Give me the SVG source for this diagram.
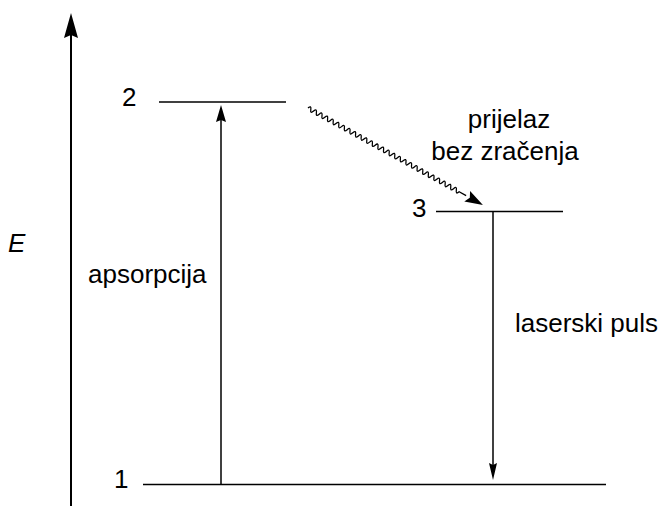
<svg xmlns="http://www.w3.org/2000/svg" width="664" height="506" viewBox="0 0 664 506">
<style>
.t{font-family:"Liberation Sans",Arial,sans-serif;font-size:26px;fill:#000}
.ln{stroke:#000;stroke-width:1.5;fill:none}
.ah{fill:#000;stroke:none}
</style>
<rect width="664" height="506" fill="#fff"/>
<g id="axis">
<line class="ln" x1="71" y1="506" x2="71" y2="30" style="stroke-width:2"/>
<polygon class="ah" points="71,13 64,38 71,35 78,38"/>
<text class="t" x="8" y="252" font-style="italic">E</text>
</g>
<g id="level1">
<line class="ln" x1="143" y1="484.5" x2="606" y2="484.5"/>
<text class="t" x="114" y="488">1</text>
</g>
<g id="level2">
<line class="ln" x1="159" y1="102" x2="286" y2="102"/>
<text class="t" x="122" y="106">2</text>
</g>
<g id="level3">
<line class="ln" x1="436" y1="211.5" x2="563" y2="211.5"/>
<text class="t" x="412" y="217">3</text>
</g>
<g id="connectors">
<g id="absorption">
<line class="ln" x1="221" y1="484" x2="221" y2="118"/>
<polygon class="ah" points="221,105 216,122 221,120 226,122"/>
<text class="t" x="88" y="283">apsorpcija</text>
</g>
<g id="laser">
<line class="ln" x1="493" y1="212" x2="493" y2="466"/>
<polygon class="ah" points="493,480 489,463 493,465 497,463"/>
<text class="t" x="515" y="332">laserski puls</text>
</g>
<g id="nonradiative">
<g transform="translate(308,108) rotate(29)">
<path class="ln" style="stroke-width:1.3" d="M0,0 q1.6,-4.4 3.2,0 t3.2,0 t3.2,0 t3.2,0 t3.2,0 t3.2,0 t3.2,0 t3.2,0 t3.2,0 t3.2,0 t3.2,0 t3.2,0 t3.2,0 t3.2,0 t3.2,0 t3.2,0 t3.2,0 t3.2,0 t3.2,0 t3.2,0 t3.2,0 t3.2,0 t3.2,0 t3.2,0 t3.2,0 t3.2,0 t3.2,0 t3.2,0 t3.2,0 t3.2,0 t3.2,0 t3.2,0 t3.2,0 t3.2,0 t3.2,0 t3.2,0 t3.2,0 t3.2,0 t3.2,0 t3.2,0 t3.2,0 t3.2,0 t3.2,0 t3.2,0 t3.2,0 t3.2,0 t3.2,0 t3.2,0 t3.2,0 t3.2,0 t3.2,0 t3.2,0 t3.2,0 t3.2,0 l8,0"/>
<polygon class="ah" points="200,0 182,-6 185,0 182,6"/>
</g>
<text class="t" x="509" y="128" text-anchor="middle">prijelaz</text>
<text class="t" x="505" y="160" text-anchor="middle">bez zračenja</text>
</g>
</g>
</svg>
